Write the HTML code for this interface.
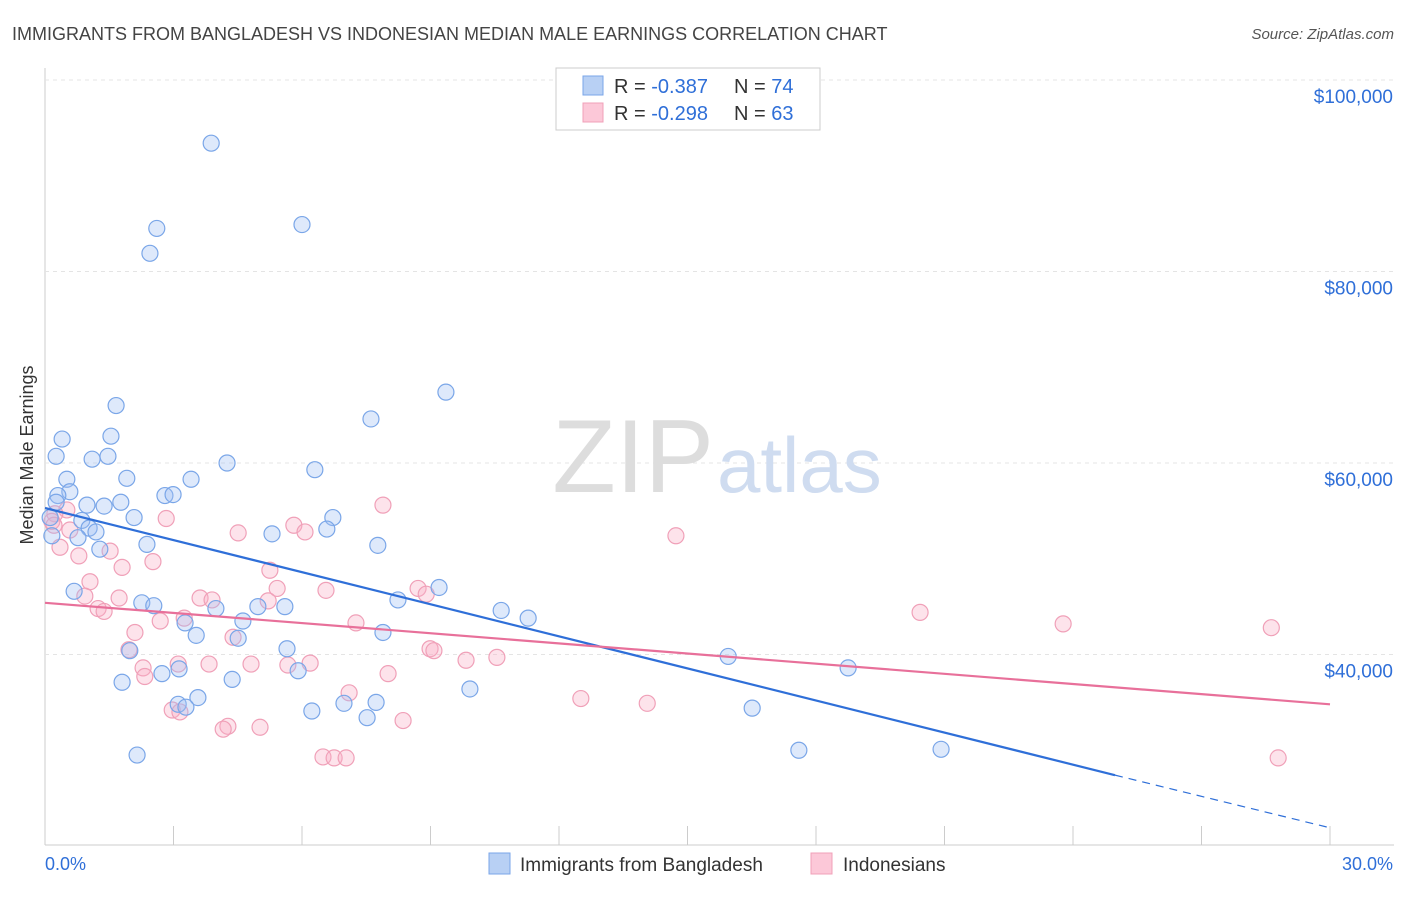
<!DOCTYPE html>
<html><head><meta charset="utf-8"><style>
body{margin:0;background:#fff;font-family:"Liberation Sans",sans-serif;}
svg text{font-family:"Liberation Sans",sans-serif;}
</style></head><body>
<svg id="chart" width="1406" height="892">
<text x="12" y="40" font-size="18" fill="#444">IMMIGRANTS FROM BANGLADESH VS INDONESIAN MEDIAN MALE EARNINGS CORRELATION CHART</text>
<text x="1394" y="39" font-size="15" fill="#555" font-style="italic" text-anchor="end">Source: ZipAtlas.com</text>
<text x="33" y="455" font-size="18" fill="#333" text-anchor="middle" transform="rotate(-90 33 455)">Median Male Earnings</text>
<g id="grid"></g>
<text x="714" y="492" font-size="104" fill="#ddd" text-anchor="end" font-family="Liberation Serif">ZIP</text>
<text x="717" y="492" font-size="78" fill="#cfdcf0">atlas</text>
<g id="pts"></g>
<g id="lines"></g>
<g>
<rect x="556" y="68" width="264" height="62" fill="#fff" stroke="#ccc"/>
<rect x="583" y="76" width="20" height="19" fill="#b8d0f4" stroke="#7aa6e8"/>
<rect x="583" y="103" width="20" height="19" fill="#fcc8d8" stroke="#f0a0b8"/>
<text x="614" y="93" font-size="20" fill="#333">R = <tspan fill="#2f6fd8">-0.387</tspan><tspan x="734">N = </tspan><tspan fill="#2f6fd8">74</tspan></text>
<text x="614" y="120" font-size="20" fill="#333">R = <tspan fill="#2f6fd8">-0.298</tspan><tspan x="734">N = </tspan><tspan fill="#2f6fd8">63</tspan></text>
</g>
<g>
<rect x="489" y="853" width="21" height="21" fill="#b8d0f4" stroke="#7aa6e8"/>
<text x="520" y="871" font-size="19" fill="#333">Immigrants from Bangladesh</text>
<rect x="811" y="853" width="21" height="21" fill="#fcc8d8" stroke="#f0a0b8"/>
<text x="843" y="871" font-size="19" fill="#333">Indonesians</text>
</g>
<text x="45" y="870" font-size="18" fill="#2f6fd8">0.0%</text>
<text x="1393" y="870" font-size="18" fill="#2f6fd8" text-anchor="end">30.0%</text>
</svg>
<script>
const yTicks=[40000,60000,80000,100000];
const xTicks=[0,3,6,9,12,15,18,21,24,27,30];
const blueX=[3.88,2.61,2.45,6.00,9.36,1.66,7.61,0.40,1.54,0.26,1.47,1.10,4.25,6.30,0.51,1.91,3.41,0.58,0.30,2.80,2.99,0.98,1.38,1.77,0.26,0.86,2.08,6.72,0.12,1.03,1.19,5.30,6.58,0.16,0.77,2.38,7.77,1.28,0.68,2.26,2.54,3.99,4.97,5.60,8.24,9.20,10.65,11.28,3.27,4.62,3.53,4.51,7.89,1.98,5.65,15.95,18.75,3.13,5.91,2.73,1.80,4.37,9.92,3.57,7.73,6.98,3.11,3.29,6.23,7.52,16.51,17.60,20.92,2.15];
const blueY=[93.4,84.5,81.9,84.9,67.4,66.0,64.6,62.5,62.8,60.7,60.7,60.4,60.0,59.3,58.3,58.4,58.3,57.0,56.6,56.6,56.7,55.6,55.5,55.9,55.9,54.0,54.3,54.3,54.3,53.2,52.8,52.6,53.1,52.4,52.2,51.5,51.4,51.0,46.6,45.4,45.1,44.8,45.0,45.0,45.7,47.0,44.6,43.8,43.3,43.5,42.0,41.7,42.3,40.4,40.6,39.8,38.6,38.5,38.3,38.0,37.1,37.4,36.4,35.5,35.0,34.9,34.8,34.5,34.1,33.4,34.4,30.0,30.1,29.5];
const pinkX=[7.89,14.73,2.83,4.51,5.81,6.07,0.51,0.23,0.16,0.21,0.58,0.35,0.79,1.52,1.80,2.52,1.05,5.25,5.42,6.56,8.71,8.90,0.93,1.73,3.62,3.90,5.21,1.24,1.38,3.25,2.69,7.26,20.43,23.77,28.63,2.10,4.39,8.99,9.08,9.83,10.55,1.96,3.11,3.83,4.81,5.67,6.19,2.29,2.33,8.01,7.10,12.51,14.06,2.97,4.27,4.16,5.02,8.36,6.49,6.75,7.03,28.79,3.15];
const pinkY=[55.6,52.4,54.2,52.7,53.5,52.8,55.1,54.7,53.9,53.5,53.0,51.2,50.3,50.8,49.1,49.7,47.6,48.8,46.9,46.7,46.9,46.3,46.1,45.9,45.9,45.7,45.6,44.8,44.5,43.8,43.5,43.3,44.4,43.2,42.8,42.3,41.8,40.6,40.4,39.4,39.7,40.5,39.0,39.0,39.0,38.9,39.1,38.6,37.7,38.0,36.0,35.4,34.9,34.2,32.5,32.2,32.4,33.1,29.3,29.2,29.2,29.2,34.0];
const blueTrend=[55.3,27.4,24.98,21.9];
const pinkTrend=[45.4,34.8];
const NS="http://www.w3.org/2000/svg";
const X=p=>45+p/30*1285;
const Y=v=>80+(100000-v)/20000*191.5;
const Yk=k=>Y(k*1000);
function mk(tag,attrs,parent){const e=document.createElementNS(NS,tag);for(const k in attrs)e.setAttribute(k,attrs[k]);parent.appendChild(e);return e;}
const grid=document.getElementById('grid');
mk('line',{x1:45,y1:68,x2:45,y2:845,stroke:'#ccc'},grid);
mk('line',{x1:45,y1:845,x2:1394,y2:845,stroke:'#ccc'},grid);
yTicks.forEach(t=>{
 const l=mk('line',{x1:45,y1:Y(t),x2:1394,y2:Y(t),stroke:'#e4e4e4','stroke-dasharray':'4,4'},grid);
 
 
 const tx=mk('text',{x:1393,y:Y(t)+23,'font-size':19,fill:'#2f6fd8','text-anchor':'end'},grid);
 tx.textContent='$'+t.toLocaleString('en-US');
 
 
});
xTicks.forEach(t=>{
 const l=mk('line',{x1:X(t),y1:826,x2:X(t),y2:845,stroke:'#ccc'},grid);
 
 
});
const pts=document.getElementById('pts');
pinkX.forEach((p,i)=>{
 const c=mk('circle',{cx:X(p),cy:Yk(pinkY[i]),r:8,fill:'rgba(248,175,198,0.35)',stroke:'#f0a0b8','stroke-width':1.2},pts);
 
 
});
blueX.forEach((p,i)=>{
 const c=mk('circle',{cx:X(p),cy:Yk(blueY[i]),r:8,fill:'rgba(160,192,244,0.35)',stroke:'#7aa6e8','stroke-width':1.2},pts);
 
 
});
const lines=document.getElementById('lines');
const b1=mk('line',{x1:X(0),y1:Yk(blueTrend[0]),x2:X(blueTrend[2]),y2:Yk(blueTrend[1]),stroke:'#2f6fd8','stroke-width':2.2},lines);


const b2=mk('line',{x1:X(blueTrend[2]),y1:Yk(blueTrend[1]),x2:X(30),y2:Yk(blueTrend[3]),stroke:'#2f6fd8','stroke-width':1.2,'stroke-dasharray':'8,6'},lines);


const p1=mk('line',{x1:X(0),y1:Yk(pinkTrend[0]),x2:X(30),y2:Yk(pinkTrend[1]),stroke:'#e8709a','stroke-width':2.2},lines);


</script>
</body></html>
